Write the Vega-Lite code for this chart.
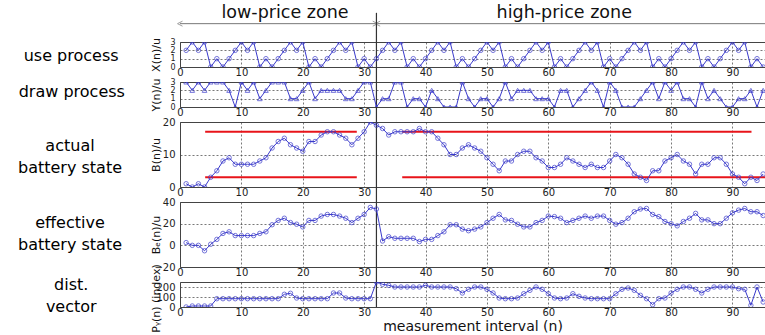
{
  "$schema": "https://vega.github.io/schema/vega-lite/v6.json",
  "padding": {"left": 17, "top": 3, "right": 0, "bottom": 2},
  "background": "white",
  "spacing": 15,
  "bounds": "flush",
  "resolve": {"scale": {"x": "independent", "y": "independent"}},
  "config": {
    "view": {"stroke": "#444", "strokeWidth": 1},
    "axis": {
      "grid": true, "gridColor": "#444", "gridDash": [2, 2], "gridWidth": 0.8, "gridOpacity": 0.9,
      "domain": false, "ticks": false,
      "labelFont": "DejaVu Sans", "labelFontSize": 10, "labelColor": "#222",
      "labelOverlap": false, "labelFlush": false,
      "titleFont": "DejaVu Sans", "titleFontSize": 11, "titleFontWeight": "normal", "titleColor": "#111"
    },
    "axisX": {"labelPadding": 0},
    "axisY": {"labelPadding": 5, "titleX": -19},
    "title": {"font": "DejaVu Sans", "fontSize": 16, "fontWeight": "normal", "color": "#000",
      "orient": "left", "angle": 0, "align": "center", "baseline": "top", "anchor": "middle",
      "frame": "group", "lineHeight": 22}
  },
  "datasets": {
    "main": [
      {"n":1,"X":2,"Y":3,"B":1,"Be":2.5,"P":0},
      {"n":2,"X":3,"Y":2,"B":0,"Be":0,"P":10},
      {"n":3,"X":2,"Y":3,"B":1,"Be":0,"P":10},
      {"n":4,"X":3,"Y":2,"B":0,"Be":-5,"P":10},
      {"n":5,"X":0,"Y":3,"B":3,"Be":1,"P":10},
      {"n":6,"X":1,"Y":3,"B":5,"Be":5.5,"P":83},
      {"n":7,"X":0,"Y":3,"B":8,"Be":11,"P":83},
      {"n":8,"X":1,"Y":2,"B":9,"Be":12.5,"P":83},
      {"n":9,"X":2,"Y":0,"B":7,"Be":9,"P":83},
      {"n":10,"X":3,"Y":3,"B":7,"Be":9,"P":83},
      {"n":11,"X":2,"Y":2,"B":7,"Be":9,"P":83},
      {"n":12,"X":3,"Y":3,"B":7,"Be":9,"P":83},
      {"n":13,"X":0,"Y":1,"B":8,"Be":11,"P":83},
      {"n":14,"X":1,"Y":2,"B":9,"Be":12.5,"P":83},
      {"n":15,"X":0,"Y":3,"B":12,"Be":19,"P":83},
      {"n":16,"X":1,"Y":3,"B":14,"Be":23,"P":83},
      {"n":17,"X":2,"Y":3,"B":15,"Be":25,"P":127},
      {"n":18,"X":3,"Y":1,"B":13,"Be":21,"P":137},
      {"n":19,"X":2,"Y":1,"B":12,"Be":19.5,"P":90},
      {"n":20,"X":3,"Y":2,"B":11,"Be":17,"P":83},
      {"n":21,"X":0,"Y":3,"B":14,"Be":23,"P":83},
      {"n":22,"X":1,"Y":1,"B":14,"Be":23,"P":83},
      {"n":23,"X":0,"Y":2,"B":16,"Be":27,"P":83},
      {"n":24,"X":1,"Y":2,"B":17,"Be":28.5,"P":83},
      {"n":25,"X":2,"Y":2,"B":17,"Be":28.5,"P":140},
      {"n":26,"X":3,"Y":2,"B":16,"Be":27,"P":140},
      {"n":27,"X":2,"Y":1,"B":15,"Be":25,"P":90},
      {"n":28,"X":3,"Y":1,"B":13,"Be":21,"P":83},
      {"n":29,"X":0,"Y":2,"B":15,"Be":25,"P":83},
      {"n":30,"X":1,"Y":3,"B":17,"Be":28.5,"P":83},
      {"n":31,"X":0,"Y":3,"B":20,"Be":35,"P":83},
      {"n":32,"X":1,"Y":0,"B":19,"Be":33.5,"P":250},
      {"n":33,"X":2,"Y":1,"B":18,"Be":4,"P":227},
      {"n":34,"X":3,"Y":1,"B":16,"Be":8,"P":217},
      {"n":35,"X":2,"Y":3,"B":17,"Be":6.5,"P":200},
      {"n":36,"X":3,"Y":3,"B":17,"Be":6.5,"P":200},
      {"n":37,"X":0,"Y":0,"B":17,"Be":6.5,"P":200},
      {"n":38,"X":1,"Y":1,"B":17,"Be":6.5,"P":200},
      {"n":39,"X":0,"Y":1,"B":18,"Be":3.5,"P":200},
      {"n":40,"X":1,"Y":0,"B":17,"Be":5.5,"P":217},
      {"n":41,"X":2,"Y":2,"B":17,"Be":5.5,"P":200},
      {"n":42,"X":3,"Y":1,"B":15,"Be":9,"P":200},
      {"n":43,"X":2,"Y":0,"B":13,"Be":12.5,"P":200},
      {"n":44,"X":3,"Y":0,"B":10,"Be":19,"P":200},
      {"n":45,"X":0,"Y":0,"B":10,"Be":19,"P":183},
      {"n":46,"X":1,"Y":3,"B":12,"Be":15,"P":140},
      {"n":47,"X":0,"Y":1,"B":13,"Be":13.5,"P":177},
      {"n":48,"X":1,"Y":0,"B":12,"Be":15,"P":200},
      {"n":49,"X":2,"Y":1,"B":11,"Be":17,"P":200},
      {"n":50,"X":3,"Y":1,"B":9,"Be":21,"P":177},
      {"n":51,"X":2,"Y":0,"B":7,"Be":25,"P":140},
      {"n":52,"X":3,"Y":1,"B":5,"Be":28.5,"P":90},
      {"n":53,"X":0,"Y":3,"B":8,"Be":23.5,"P":83},
      {"n":54,"X":1,"Y":1,"B":8,"Be":23,"P":83},
      {"n":55,"X":0,"Y":2,"B":10,"Be":19.5,"P":90},
      {"n":56,"X":1,"Y":2,"B":11,"Be":17,"P":133},
      {"n":57,"X":2,"Y":2,"B":11,"Be":17,"P":167},
      {"n":58,"X":3,"Y":1,"B":9,"Be":21,"P":200},
      {"n":59,"X":2,"Y":1,"B":8,"Be":23,"P":177},
      {"n":60,"X":3,"Y":1,"B":6,"Be":27,"P":133},
      {"n":61,"X":0,"Y":0,"B":6,"Be":26.5,"P":90},
      {"n":62,"X":1,"Y":2,"B":7,"Be":25,"P":83},
      {"n":63,"X":0,"Y":2,"B":9,"Be":21,"P":90},
      {"n":64,"X":1,"Y":0,"B":8,"Be":23,"P":133},
      {"n":65,"X":2,"Y":1,"B":7,"Be":25,"P":107},
      {"n":66,"X":3,"Y":2,"B":6,"Be":27,"P":90},
      {"n":67,"X":2,"Y":3,"B":7,"Be":25,"P":83},
      {"n":68,"X":3,"Y":2,"B":6,"Be":27,"P":83},
      {"n":69,"X":0,"Y":0,"B":6,"Be":27,"P":83},
      {"n":70,"X":1,"Y":3,"B":8,"Be":23,"P":83},
      {"n":71,"X":0,"Y":2,"B":10,"Be":19.5,"P":133},
      {"n":72,"X":1,"Y":0,"B":9,"Be":21,"P":177},
      {"n":73,"X":2,"Y":0,"B":7,"Be":25,"P":190},
      {"n":74,"X":3,"Y":0,"B":4,"Be":31,"P":167},
      {"n":75,"X":2,"Y":1,"B":3,"Be":33.5,"P":117},
      {"n":76,"X":3,"Y":2,"B":2,"Be":34,"P":83},
      {"n":77,"X":0,"Y":3,"B":5,"Be":28.5,"P":23},
      {"n":78,"X":1,"Y":1,"B":5,"Be":26.5,"P":83},
      {"n":79,"X":0,"Y":3,"B":8,"Be":22,"P":90},
      {"n":80,"X":1,"Y":2,"B":9,"Be":20,"P":140},
      {"n":81,"X":2,"Y":3,"B":10,"Be":18,"P":177},
      {"n":82,"X":3,"Y":1,"B":8,"Be":22,"P":200},
      {"n":83,"X":2,"Y":1,"B":7,"Be":25,"P":200},
      {"n":84,"X":3,"Y":0,"B":4,"Be":29.5,"P":177},
      {"n":85,"X":0,"Y":3,"B":7,"Be":23.5,"P":140},
      {"n":86,"X":1,"Y":1,"B":7,"Be":23.5,"P":177},
      {"n":87,"X":0,"Y":2,"B":9,"Be":20,"P":200},
      {"n":88,"X":1,"Y":1,"B":9,"Be":20,"P":200},
      {"n":89,"X":2,"Y":0,"B":7,"Be":25,"P":200},
      {"n":90,"X":3,"Y":0,"B":4,"Be":30,"P":200},
      {"n":91,"X":2,"Y":1,"B":3,"Be":32.5,"P":183},
      {"n":92,"X":3,"Y":1,"B":1,"Be":34,"P":177},
      {"n":93,"X":0,"Y":2,"B":3,"Be":31,"P":17},
      {"n":94,"X":1,"Y":0,"B":2,"Be":31,"P":200},
      {"n":95,"X":0,"Y":2,"B":4,"Be":27.5,"P":50}
    ]
  },
  "vconcat": [
    {
      "width": 585, "height": 25,
      "title": {"text": "use process", "offset": -16, "dy": -7},
      "encoding": {
        "x": {"field": "n", "type": "quantitative", "scale": {"domain": [0, 95.3], "nice": false, "zero": false}, "axis": {"values": [0,10,20,30,40,50,60,70,80,90], "title": null}},
        "y": {"field": "X", "type": "quantitative", "scale": {"domain": [0, 3], "nice": false}, "axis": {"values": [0,1,2,3], "title": "X(n)/u", "labelFontSize": 8}}
      },
      "layer": [
        {"data": {"values": [{"n": 0, "n2": 31.8, "X": 5.2}, {"n": 32.2, "n2": 95.3, "X": 5.2}]},
         "mark": {"type": "rule", "color": "#777", "strokeWidth": 1},
         "encoding": {"x2": {"field": "n2"}}},
        {"data": {"values": [{"n": 0, "X": 5.2}, {"n": 32.2, "X": 5.2}]},
         "mark": {"type": "point", "shape": "M1,-1L-1,0L1,1", "filled": false, "size": 25, "color": "#777", "strokeWidth": 1}},
        {"data": {"values": [{"n": 31.8, "X": 5.2}]},
         "mark": {"type": "point", "shape": "M-1,-1L1,0L-1,1", "filled": false, "size": 25, "color": "#777", "strokeWidth": 1}},
        {"data": {"values": [{"n": 17.1, "X": 6.48, "label": "low-price zone"}, {"n": 62.6, "X": 6.48, "label": "high-price zone"}]},
         "mark": {"type": "text", "font": "DejaVu Sans", "fontSize": 17.5, "align": "center", "baseline": "middle", "color": "#111"},
         "encoding": {"text": {"field": "label"}}},
        {"data": {"values": [{"n": 32, "X": 6.5, "X2": -1.9}]},
         "mark": {"type": "rule", "color": "#333", "strokeWidth": 1.2},
         "encoding": {"y2": {"field": "X2"}}},
        {"data": {"name": "main"}, "mark": {"type": "line", "color": "#3a3acb", "strokeWidth": 1, "clip": true}},
        {"data": {"name": "main"}, "mark": {"type": "point", "shape": "circle", "filled": false, "size": 20, "color": "#3a3acb", "strokeWidth": 1, "clip": true}}
      ]
    },
    {
      "width": 585, "height": 25,
      "title": {"text": "draw process", "offset": -28, "dy": -11},
      "encoding": {
        "x": {"field": "n", "type": "quantitative", "scale": {"domain": [0, 95.3], "nice": false, "zero": false}, "axis": {"values": [0,10,20,30,40,50,60,70,80,90], "title": null}},
        "y": {"field": "Y", "type": "quantitative", "scale": {"domain": [0, 3], "nice": false}, "axis": {"values": [0,1,2,3], "title": "Y(n)/u", "labelFontSize": 8}}
      },
      "layer": [
        {"data": {"values": [{"n": 32, "Y": 3, "Y2": -1.9}]},
         "mark": {"type": "rule", "color": "#333", "strokeWidth": 1.2},
         "encoding": {"y2": {"field": "Y2"}}},
        {"data": {"name": "main"}, "mark": {"type": "line", "color": "#3a3acb", "strokeWidth": 1, "clip": true}},
        {"data": {"name": "main"}, "mark": {"type": "point", "shape": "triangle-up", "filled": false, "size": 22, "color": "#3a3acb", "strokeWidth": 1, "clip": true}}
      ]
    },
    {
      "width": 585, "height": 65,
      "title": {"text": ["actual", "battery state"], "offset": -24, "dy": -17},
      "encoding": {
        "x": {"field": "n", "type": "quantitative", "scale": {"domain": [0, 95.3], "nice": false, "zero": false}, "axis": {"values": [0,10,20,30,40,50,60,70,80,90], "title": null}},
        "y": {"field": "B", "type": "quantitative", "scale": {"domain": [0, 20], "nice": false}, "axis": {"values": [0,10,20], "title": "B(n)/u"}}
      },
      "layer": [
        {"data": {"values": [{"n": 4.1, "n2": 28.8, "B": 17}, {"n": 4.1, "n2": 28.8, "B": 3}, {"n": 36.2, "n2": 93.1, "B": 17}, {"n": 36.2, "n2": 95.3, "B": 3}]},
         "mark": {"type": "rule", "color": "#e8141a", "strokeWidth": 2},
         "encoding": {"x2": {"field": "n2"}}},
        {"data": {"values": [{"n": 32, "B": 20, "B2": -4.75}]},
         "mark": {"type": "rule", "color": "#333", "strokeWidth": 1.2},
         "encoding": {"y2": {"field": "B2"}}},
        {"data": {"name": "main"}, "mark": {"type": "line", "color": "#3a3acb", "strokeWidth": 1, "clip": true}},
        {"data": {"name": "main"}, "mark": {"type": "point", "shape": "circle", "filled": false, "size": 20, "color": "#3a3acb", "strokeWidth": 1, "clip": true}}
      ]
    },
    {
      "width": 585, "height": 65,
      "title": {"text": ["effective", "battery state"], "offset": -24, "dy": -20},
      "encoding": {
        "x": {"field": "n", "type": "quantitative", "scale": {"domain": [0, 95.3], "nice": false, "zero": false}, "axis": {"values": [0,10,20,30,40,50,60,70,80,90], "title": null}},
        "y": {"field": "Be", "type": "quantitative", "scale": {"domain": [-20, 40], "nice": false}, "axis": {"values": [-20,0,20,40], "title": "Bₑ(n)/u"}}
      },
      "layer": [
        {"data": {"values": [{"n": 32, "Be": 40, "Be2": -34}]},
         "mark": {"type": "rule", "color": "#333", "strokeWidth": 1.2},
         "encoding": {"y2": {"field": "Be2"}}},
        {"data": {"name": "main"}, "mark": {"type": "line", "color": "#3a3acb", "strokeWidth": 1, "clip": true}},
        {"data": {"name": "main"}, "mark": {"type": "point", "shape": "circle", "filled": false, "size": 20, "color": "#3a3acb", "strokeWidth": 1, "clip": true}}
      ]
    },
    {
      "width": 585, "height": 25,
      "title": {"text": ["dist.", "vector"], "offset": 28, "dy": -18},
      "encoding": {
        "x": {"field": "n", "type": "quantitative", "scale": {"domain": [0, 95.3], "nice": false, "zero": false}, "axis": {"values": [0,10,20,30,40,50,60,70,80,90], "title": "measurement interval (n)", "titleFontSize": 14, "titlePadding": 2}},
        "y": {"field": "P", "type": "quantitative", "scale": {"domain": [0, 250], "nice": false}, "axis": {"values": [0,100,200], "title": "Pᵧ(n) (index)", "titleY": 16}}
      },
      "layer": [
        {"data": {"values": [{"n": 32, "P": 250, "P2": 0}]},
         "mark": {"type": "rule", "color": "#333", "strokeWidth": 1.2},
         "encoding": {"y2": {"field": "P2"}}},
        {"data": {"name": "main"}, "mark": {"type": "line", "color": "#3a3acb", "strokeWidth": 1, "clip": true}},
        {"data": {"name": "main"}, "mark": {"type": "point", "shape": "circle", "filled": false, "size": 20, "color": "#3a3acb", "strokeWidth": 1, "clip": true}}
      ]
    }
  ]
}
